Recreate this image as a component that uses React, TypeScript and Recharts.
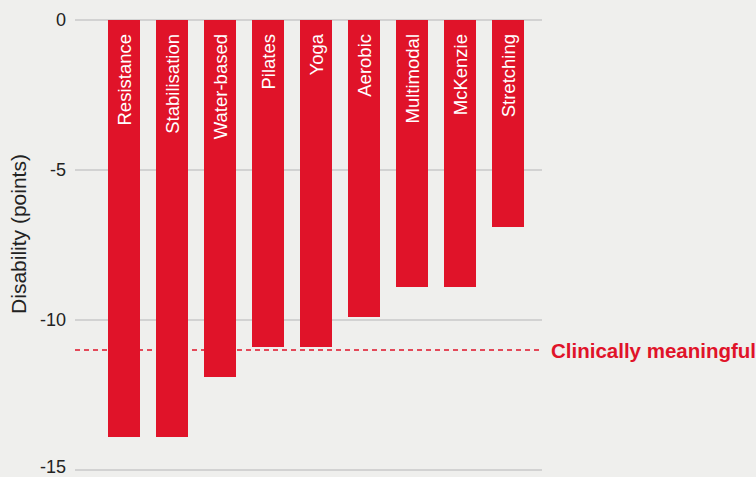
import React from 'react';
import { BarChart, Bar, XAxis, YAxis, CartesianGrid, ReferenceLine, LabelList } from 'recharts';

const exerciseTypes = ['Resistance', 'Stabilisation', 'Water-based', 'Pilates', 'Yoga', 'Aerobic', 'Multimodal', 'McKenzie', 'Stretching'];
const disabilityChange = [-13.9, -13.9, -11.9, -10.9, -10.9, -9.9, -8.9, -8.9, -6.9];
const yTicks = [0, -5, -10, -15];
const clinicalThreshold = -11;

const RED = '#e01329';
const FONT = '"Liberation Sans", Arial, Helvetica, sans-serif';

const chartData = exerciseTypes.map((name, i) => ({ name, value: disabilityChange[i] }));

// vertical white label sitting at the top of each bar
const renderBarLabel = (props: any) => {
  const { x, y, width, height, value } = props;
  const top = Math.min(y, y + height);
  const cx = x + width / 2;
  const ty = top + 14;
  return (
    <text
      x={cx}
      y={ty}
      transform={`rotate(-90, ${cx}, ${ty})`}
      textAnchor="end"
      dominantBaseline="central"
      fill="#ffffff"
      fontSize={18.5}
      fontFamily={FONT}
    >
      {value}
    </text>
  );
};

const renderThresholdLabel = (props: any) => {
  const { viewBox } = props;
  return (
    <text
      x={viewBox.x + viewBox.width + 9}
      y={viewBox.y}
      dominantBaseline="central"
      fill={RED}
      fontSize={20.5}
      fontWeight="bold"
      fontFamily={FONT}
    >
      Clinically meaningful
    </text>
  );
};

const renderAxisLabel = () => (
  <text
    x={18}
    y={234}
    transform="rotate(-90, 18, 234)"
    textAnchor="middle"
    dominantBaseline="central"
    fill="#222"
    fontSize={21}
    fontFamily={FONT}
  >
    Disability (points)
  </text>
);

export default function App() {
  return (
    <div style={{ position: 'absolute', top: 0, left: 0, width: 756, height: 477, background: '#efefed' }}>
      <BarChart
        width={756}
        height={477}
        data={chartData}
        margin={{ top: 20, right: 214, bottom: 7, left: 0 }}
        barSize={32}
      >
        <CartesianGrid vertical={false} stroke="#c8c8c8" strokeWidth={1.5} />
        <XAxis dataKey="name" hide padding={{ left: 25, right: 10 }} />
        <YAxis
          width={75}
          domain={[-15, 0]}
          ticks={yTicks}
          axisLine={false}
          tickLine={false}
          tickSize={0}
          tickMargin={9}
          tick={{ fill: '#222', fontSize: 18, fontFamily: FONT }}
          label={renderAxisLabel}
        />
        <ReferenceLine
          y={clinicalThreshold}
          stroke={RED}
          strokeWidth={1.5}
          strokeDasharray="5 4"
          label={renderThresholdLabel}
          zIndex={50}
        />
        <Bar dataKey="value" fill={RED} isAnimationActive={false} zIndex={400}>
          <LabelList dataKey="name" content={renderBarLabel} zIndex={1100} />
        </Bar>
      </BarChart>
    </div>
  );
}
